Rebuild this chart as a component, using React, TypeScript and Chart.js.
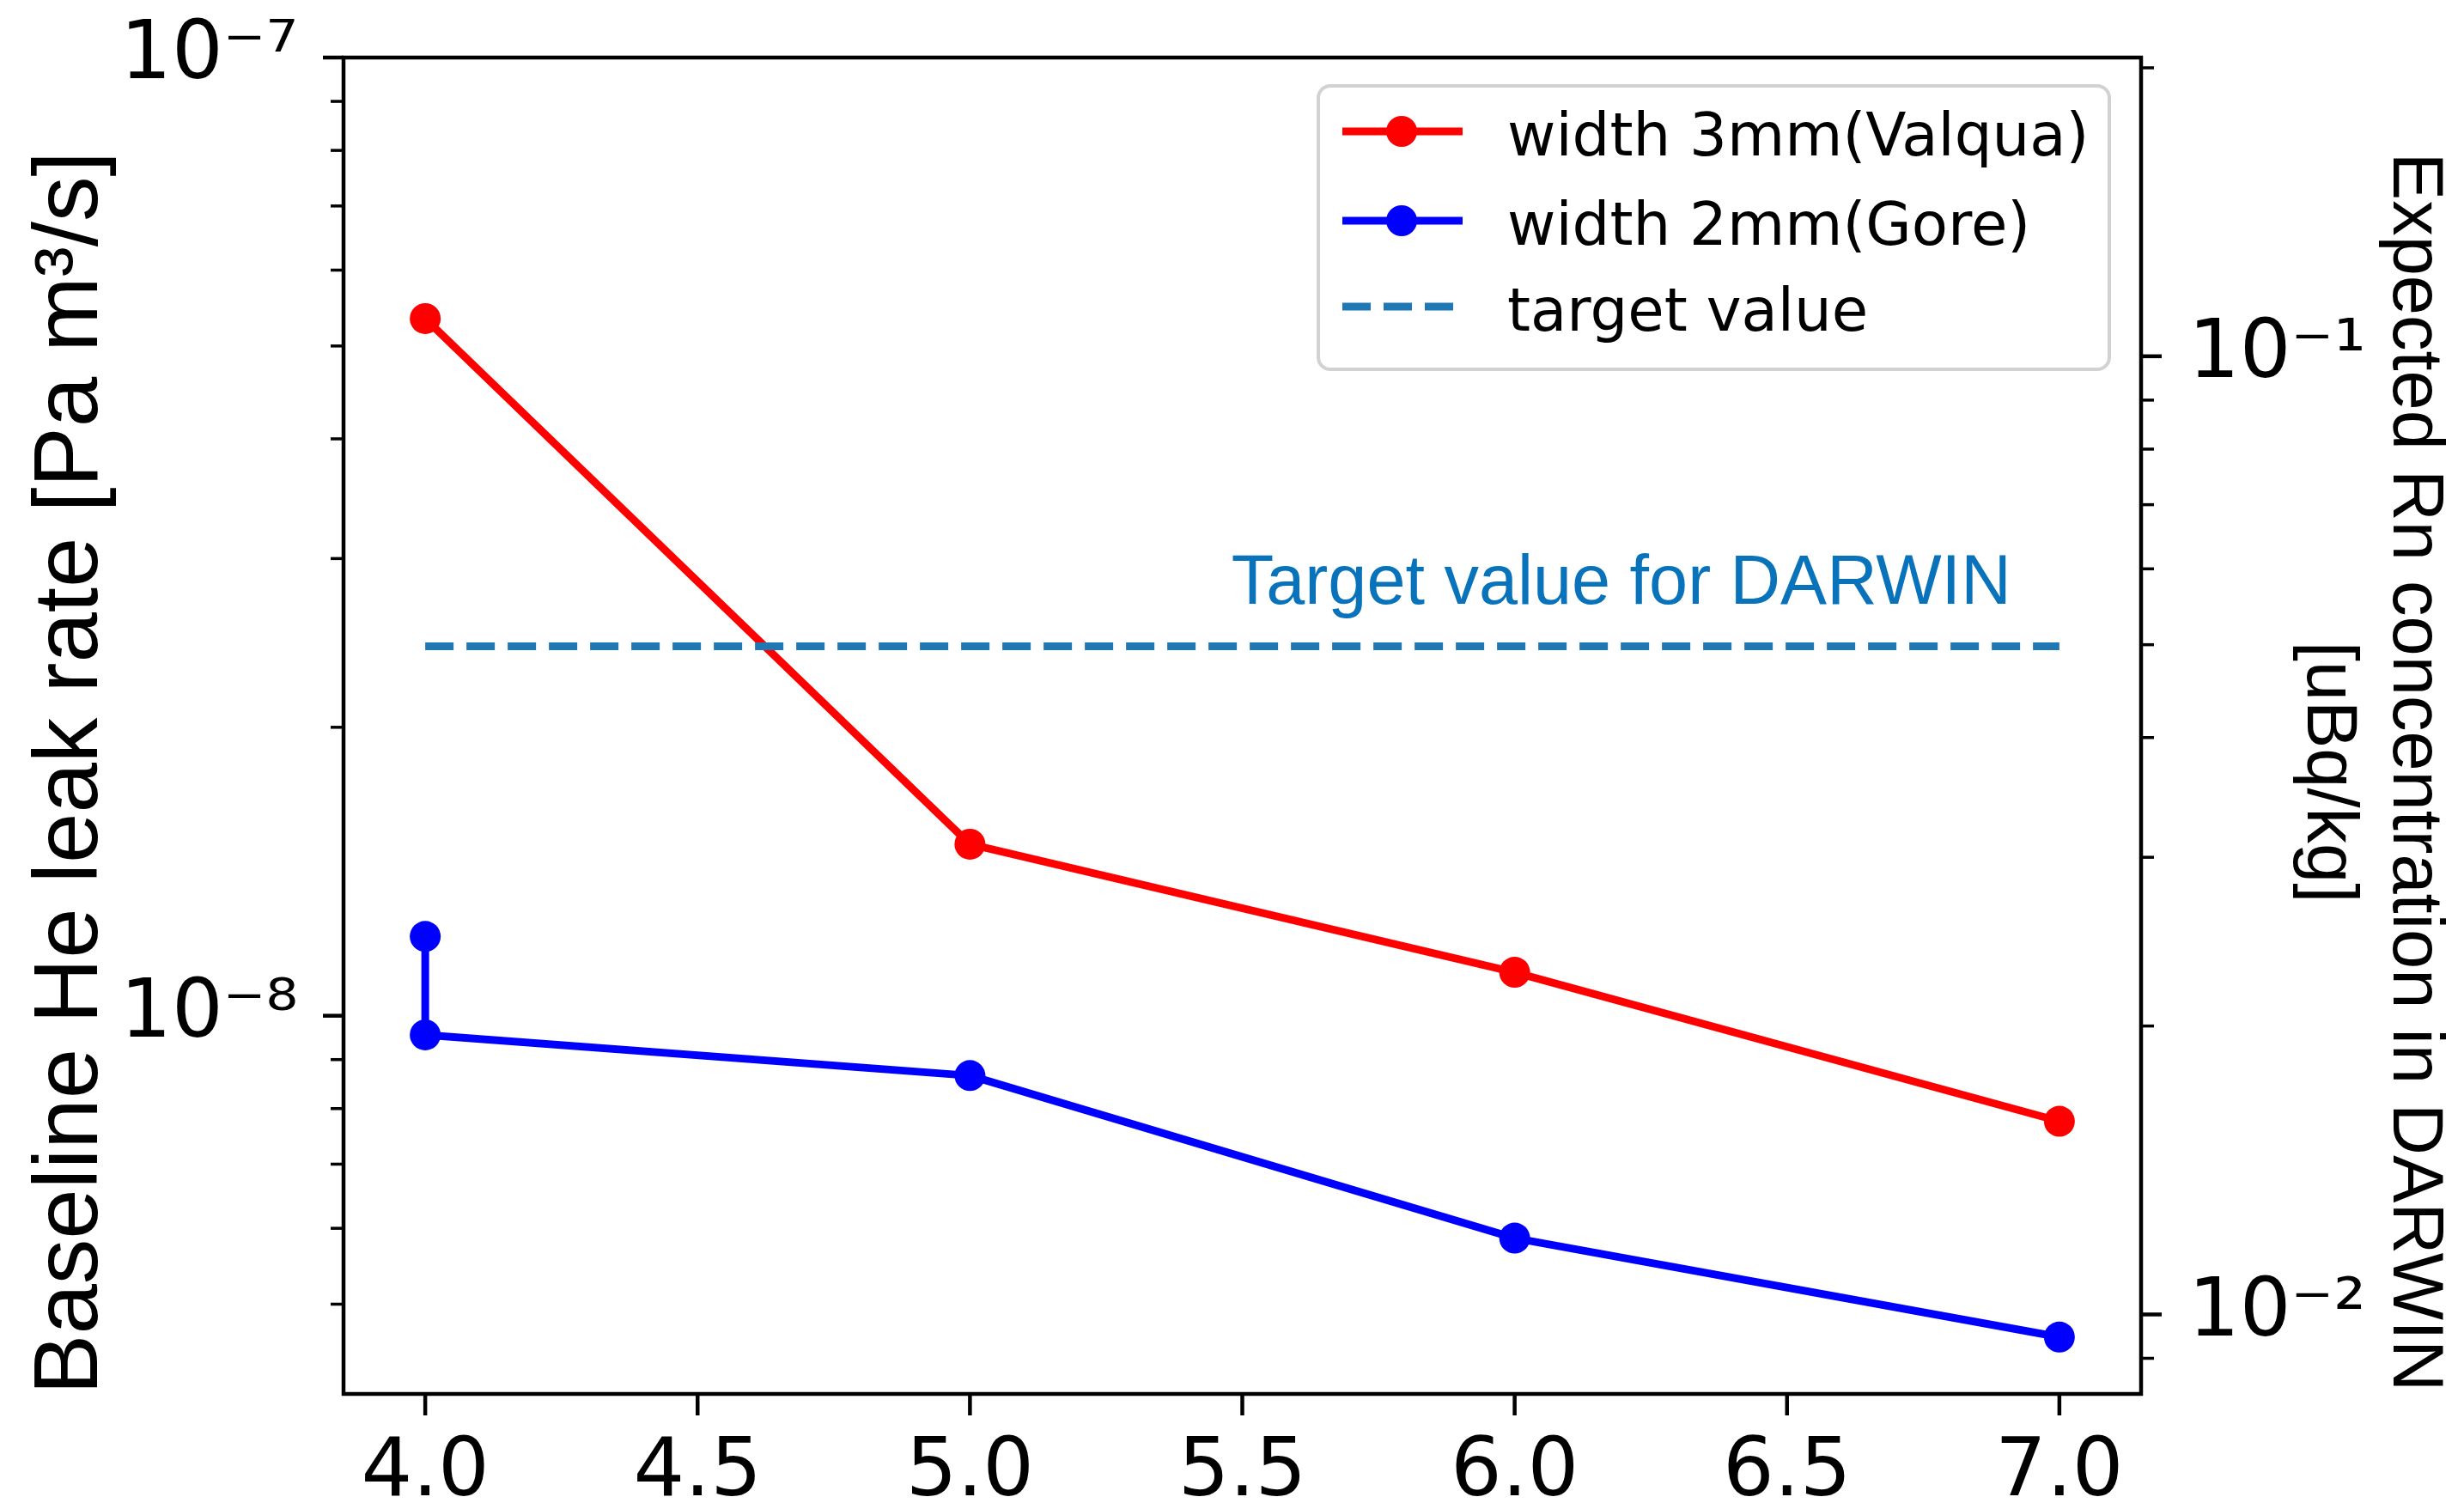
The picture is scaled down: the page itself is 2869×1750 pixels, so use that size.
import React, { useEffect, useRef } from "react";
import { Chart, registerables } from "chart.js";

Chart.register(...registerables);

// ---------------- data ----------------
const valquaX = [4.0, 5.0, 6.0, 7.0];
const valquaLeak = [5.34e-8, 1.51e-8, 1.11e-8, 7.76e-9];

const goreX = [4.0, 4.0, 5.0, 6.0, 7.0];
const goreLeak = [1.21e-8, 9.55e-9, 8.66e-9, 5.86e-9, 4.62e-9];

const targetX = [4.0, 7.0];
const targetLeak = [2.43e-8, 2.43e-8];

const seriesLabels = ["width 3mm(Valqua)", "width 2mm(Gore)", "target value"];
const seriesColors = ["#ff0000", "#0000ff", "#1f77b4"];

const xTickValues = [4.0, 4.5, 5.0, 5.5, 6.0, 6.5, 7.0];
const xTickLabels = ["4.0", "4.5", "5.0", "5.5", "6.0", "6.5", "7.0"];

const leftMajorTicks = [1e-8, 1e-7];
const leftMajorLabels = ["10⁻⁸", "10⁻⁷"];
const leftMinorTicks = [5e-9, 6e-9, 7e-9, 8e-9, 9e-9, 2e-8, 3e-8, 4e-8, 5e-8, 6e-8, 7e-8, 8e-8, 9e-8];

const rightMajorTicks = [1e-2, 1e-1];
const rightMajorLabels = ["10⁻²", "10⁻¹"];
const rightMinorTicks = [9e-3, 2e-2, 3e-2, 4e-2, 5e-2, 6e-2, 7e-2, 8e-2, 9e-2, 2e-1];

const xRange = [3.85, 7.15];
const leftRange = [4.03e-9, 1e-7];
const leakToRn = 2.05e6; // right-axis value = leak rate * factor

const annotationText = "Target value for DARWIN";
const annotationAt = [5.48, 2.69e-8];

const leftTitle = "Baseline He leak rate [Pa m³/s]";
const rightTitle = ["Expected Rn concentration in DARWIN", "[uBq/kg]"];

// ---------------- layout ----------------
const W = 2869;
const H = 1750;
const AREA = { left: 400, right: 2493, top: 67, bottom: 1623 };
const TICK_FONT = "DejaVu Sans";
const TITLE_FONT = "Liberation Sans";

const isIn = (arr: number[], v: number) => arr.findIndex((m) => Math.abs(m - v) / m < 1e-6);

const zeroPad = (s: any) => {
  s.paddingTop = 0;
  s.paddingBottom = 0;
  s.paddingLeft = 0;
  s.paddingRight = 0;
};

const decorPlugin = {
  id: "decor",
  afterDraw(chart: any) {
    const ctx: CanvasRenderingContext2D = chart.ctx;
    const ca = chart.chartArea;
    const xs = chart.scales.x;
    const ys = chart.scales.y;
    const y2 = chart.scales.y2;
    ctx.save();
    ctx.strokeStyle = "#000";
    ctx.lineCap = "butt";

    // tick marks
    const tick = (x1: number, y1: number, x2: number, y2p: number, w: number) => {
      ctx.lineWidth = w;
      ctx.beginPath();
      ctx.moveTo(x1, y1);
      ctx.lineTo(x2, y2p);
      ctx.stroke();
    };
    xTickValues.forEach((v) => {
      const px = xs.getPixelForValue(v);
      tick(px, ca.bottom, px, ca.bottom + 25, 4.5);
    });
    leftMajorTicks.forEach((v) => {
      const py = ys.getPixelForValue(v);
      tick(ca.left, py, ca.left - 24, py, 4.5);
    });
    leftMinorTicks.forEach((v) => {
      const py = ys.getPixelForValue(v);
      tick(ca.left, py, ca.left - 15, py, 3.5);
    });
    rightMajorTicks.forEach((v) => {
      const py = y2.getPixelForValue(v);
      tick(ca.right, py, ca.right + 24, py, 4.5);
    });
    rightMinorTicks.forEach((v) => {
      const py = y2.getPixelForValue(v);
      tick(ca.right, py, ca.right + 15, py, 3.5);
    });

    // frame
    ctx.lineWidth = 4.5;
    ctx.lineJoin = "miter";
    ctx.strokeRect(ca.left, ca.top, ca.right - ca.left, ca.bottom - ca.top);

    // annotation
    ctx.fillStyle = "#0873ba";
    ctx.font = `81px "${TITLE_FONT}"`;
    ctx.textAlign = "left";
    ctx.textBaseline = "alphabetic";
    ctx.fillText(annotationText, xs.getPixelForValue(annotationAt[0]), ys.getPixelForValue(annotationAt[1]));

    // axis titles
    const cy = (ca.top + ca.bottom) / 2 + 55;
    ctx.fillStyle = "#000";
    ctx.textAlign = "center";
    ctx.textBaseline = "alphabetic";
    ctx.save();
    ctx.translate(ca.left - 287, cy);
    ctx.rotate(-Math.PI / 2);
    ctx.font = `105px "${TITLE_FONT}"`;
    ctx.fillText(leftTitle, 0, 0);
    ctx.restore();

    ctx.save();
    ctx.translate(ca.right + 294, cy - 1);
    ctx.rotate(Math.PI / 2);
    ctx.font = `83px "${TITLE_FONT}"`;
    ctx.fillText(rightTitle[0], 0, 0);
    ctx.fillText(rightTitle[1], 0, 100);
    ctx.restore();

    // legend
    const bx = ca.right - 958;
    const by = ca.top + 33;
    const bw = 921;
    const bh = 330;
    ctx.beginPath();
    (ctx as any).roundRect(bx, by, bw, bh, 14);
    ctx.fillStyle = "rgba(255,255,255,0.8)";
    ctx.fill();
    ctx.strokeStyle = "#d2d2d2";
    ctx.lineWidth = 4;
    ctx.stroke();

    const rows = [by + 53, by + 157, by + 257];
    ctx.font = `69px "${TICK_FONT}"`;
    ctx.textAlign = "left";
    ctx.textBaseline = "alphabetic";
    rows.forEach((ry, i) => {
      ctx.strokeStyle = seriesColors[i];
      ctx.lineWidth = 9;
      ctx.beginPath();
      if (i === 2) ctx.setLineDash([33, 15]);
      ctx.moveTo(bx + 28, ry);
      ctx.lineTo(bx + 168, ry);
      ctx.stroke();
      ctx.setLineDash([]);
      if (i < 2) {
        ctx.fillStyle = seriesColors[i];
        ctx.beginPath();
        ctx.arc(bx + 97, ry, 18, 0, Math.PI * 2);
        ctx.fill();
      }
      ctx.fillStyle = "#000";
      ctx.fillText(seriesLabels[i], bx + 220, ry + 28);
    });
    ctx.restore();
  },
};

const tickFont = { family: TICK_FONT, size: 94, lineHeight: 1.2 };

export default function App() {
  const ref = useRef<HTMLCanvasElement>(null);
  useEffect(() => {
    const canvas = ref.current!;
    const lineCommon = {
      borderWidth: 9,
      pointRadius: 18,
      pointHoverRadius: 18,
      pointBorderWidth: 0,
      borderJoinStyle: "round" as const,
      tension: 0,
      fill: false,
    };
    const chart = new Chart(canvas, {
      type: "line",
      data: {
        datasets: [
          {
            ...lineCommon,
            label: seriesLabels[2],
            data: targetX.map((x, i) => ({ x, y: targetLeak[i] })),
            borderColor: seriesColors[2],
            backgroundColor: seriesColors[2],
            pointRadius: 0,
            pointHoverRadius: 0,
            borderDash: [33, 15],
            borderJoinStyle: "miter" as const,
            yAxisID: "y",
            order: 0,
          },
          {
            ...lineCommon,
            label: seriesLabels[1],
            data: goreX.map((x, i) => ({ x, y: goreLeak[i] })),
            borderColor: seriesColors[1],
            backgroundColor: seriesColors[1],
            pointBackgroundColor: seriesColors[1],
            yAxisID: "y",
            order: 1,
          },
          {
            ...lineCommon,
            label: seriesLabels[0],
            data: valquaX.map((x, i) => ({ x, y: valquaLeak[i] })),
            borderColor: seriesColors[0],
            backgroundColor: seriesColors[0],
            pointBackgroundColor: seriesColors[0],
            yAxisID: "y",
            order: 2,
          },
        ],
      },
      options: {
        responsive: false,
        maintainAspectRatio: false,
        devicePixelRatio: 1,
        animation: false,
        events: [],
        layout: { padding: { top: AREA.top, left: 0, right: 0, bottom: 0 } },
        plugins: { legend: { display: false }, tooltip: { enabled: false }, title: { display: false } },
        scales: {
          x: {
            type: "linear",
            min: xRange[0],
            max: xRange[1],
            grid: { display: false },
            border: { display: false },
            afterBuildTicks: (s: any) => {
              s.ticks = xTickValues.map((v) => ({ value: v }));
            },
            afterFit: (s: any) => {
              s.height = H - AREA.bottom;
              zeroPad(s);
            },
            ticks: {
              autoSkip: false,
              maxRotation: 0,
              minRotation: 0,
              padding: 29,
              color: "#000",
              font: tickFont,
              callback: (v: any) => {
                const i = xTickValues.findIndex((t) => Math.abs(t - v) < 1e-9);
                return i >= 0 ? xTickLabels[i] : "";
              },
            },
          },
          y: {
            type: "logarithmic",
            position: "left",
            min: leftRange[0],
            max: leftRange[1],
            grid: { display: false },
            border: { display: false },
            afterBuildTicks: (s: any) => {
              s.ticks = [...leftMinorTicks, ...leftMajorTicks]
                .sort((a, b) => a - b)
                .map((v) => ({ value: v }));
            },
            afterFit: (s: any) => {
              s.width = AREA.left;
              zeroPad(s);
            },
            ticks: {
              autoSkip: false,
              padding: 45,
              color: "#000",
              font: tickFont,
              callback: (v: any) => {
                const i = isIn(leftMajorTicks, v);
                return i >= 0 ? leftMajorLabels[i] : "";
              },
            },
          },
          y2: {
            type: "logarithmic",
            position: "right",
            min: leftRange[0] * leakToRn,
            max: leftRange[1] * leakToRn,
            grid: { display: false },
            border: { display: false },
            afterBuildTicks: (s: any) => {
              s.ticks = [...rightMinorTicks, ...rightMajorTicks]
                .sort((a, b) => a - b)
                .map((v) => ({ value: v }));
            },
            afterFit: (s: any) => {
              s.width = W - AREA.right;
              zeroPad(s);
            },
            ticks: {
              autoSkip: false,
              padding: 47,
              color: "#000",
              font: tickFont,
              callback: (v: any) => {
                const i = isIn(rightMajorTicks, v);
                return i >= 0 ? rightMajorLabels[i] : "";
              },
            },
          },
        },
      } as any,
      plugins: [decorPlugin],
    });
    return () => chart.destroy();
  }, []);

  return (
    <div style={{ position: "absolute", left: 0, top: 0, width: W, height: H, background: "#fff" }}>
      <canvas ref={ref} width={W} height={H} style={{ display: "block", width: W, height: H }} />
    </div>
  );
}
